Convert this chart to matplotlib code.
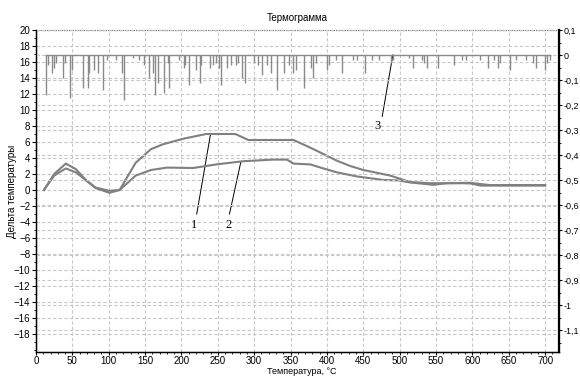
import matplotlib.pyplot as plt
from matplotlib.ticker import MultipleLocator, FuncFormatter

# Кривые 1 и 2 (дельта температуры, левая ось)
t1 = [11, 25, 41, 55, 69, 82, 101, 115, 137, 158, 174, 202, 234, 274, 292,
      354, 377, 395, 414, 432, 450, 473, 487, 514, 542, 587, 599, 611, 700]
d1 = [0.0, 2.0, 3.3, 2.6, 1.2, 0.25, -0.35, 0.0, 3.4, 5.1, 5.7, 6.4, 7.0, 7.0,
      6.25, 6.25, 5.3, 4.5, 3.65, 3.0, 2.5, 2.07, 1.8, 1.0, 0.85, 0.85, 0.8,
      0.55, 0.55]

t2 = [11, 25, 41, 55, 69, 82, 101, 115, 137, 158, 180, 216, 248, 285, 326,
      345, 354, 377, 395, 414, 441, 478, 498, 514, 546, 565, 597, 611, 624, 700]
d2 = [0.0, 1.8, 2.7, 2.2, 1.2, 0.3, -0.1, 0.0, 1.8, 2.5, 2.8, 2.75, 3.2, 3.6,
      3.8, 3.8, 3.3, 3.2, 2.7, 2.2, 1.7, 1.25, 1.2, 0.95, 0.65, 0.85, 0.9, 0.75,
      0.62, 0.62]

# Кривая 3 (правая ось): базовая линия и пики вниз
t3_start, t3_end = 12, 708
spike_t = [14, 16, 22, 25, 27, 37, 40, 47, 49, 64, 72, 73, 80, 85, 92, 97, 110,
           118, 121, 133, 142, 148, 156, 161, 164, 168, 176, 181, 183, 197, 203,
           205, 210, 220, 225, 227, 239, 243, 247, 252, 254, 263, 268, 275, 278,
           283, 288, 300, 305, 311, 318, 323, 332, 341, 348, 353, 358, 369, 378,
           381, 385, 400, 403, 412, 421, 436, 441, 452, 462, 472, 488, 491, 513,
           518, 530, 534, 538, 553, 575, 585, 591, 610, 621, 630, 635, 638, 652,
           660, 673, 683, 688, 700, 703, 707]
spike_d = [-0.16, -0.04, -0.07, -0.05, -0.03, -0.09, -0.03, -0.17, -0.06, -0.13,
           -0.13, -0.07, -0.06, -0.07, -0.14, -0.02, -0.02, -0.07, -0.18, -0.01,
           -0.02, -0.04, -0.09, -0.07, -0.16, -0.11, -0.15, -0.03, -0.13, -0.02,
           -0.05, -0.04, -0.12, -0.06, -0.11, -0.04, -0.05, -0.04, -0.03, -0.05,
           -0.12, -0.05, -0.04, -0.04, -0.03, -0.09, -0.11, -0.03, -0.04, -0.08,
           -0.04, -0.07, -0.14, -0.07, -0.04, -0.07, -0.06, -0.13, -0.05, -0.09,
           -0.03, -0.06, -0.04, -0.02, -0.07, -0.02, -0.02, -0.07, -0.02, -0.02,
           -0.03, -0.02, -0.01, -0.05, -0.02, -0.03, -0.05, -0.05, -0.04, -0.02,
           -0.02, -0.02, -0.05, -0.02, -0.05, -0.03, -0.06, -0.02, -0.02, -0.03,
           -0.05, -0.06, -0.03, -0.02]

plt.rcParams['font.family'] = ['Liberation Sans', 'DejaVu Sans']

fig = plt.figure(figsize=(5.8, 3.76), dpi=100)
ax = fig.add_axes([0.062, 0.0638, 0.9018, 0.8564])
ax2 = ax.twinx()

grid_kw = dict(color='#c8c8c8', linestyle=(0, (3, 2)), linewidth=0.8)

ax.set_xlim(0, 719)
ax.set_ylim(-20.25, 20)
ax2.set_ylim(-1.188, 0.1)

ax.xaxis.set_major_locator(MultipleLocator(50))
ax.xaxis.set_minor_locator(MultipleLocator(10))
ax.yaxis.set_major_locator(MultipleLocator(2))
ax.yaxis.set_minor_locator(MultipleLocator(1))
ax2.yaxis.set_major_locator(MultipleLocator(0.1))
ax2.yaxis.set_minor_locator(MultipleLocator(0.05))

ax.grid(True, which='major', **grid_kw)
ax2.grid(True, which='major', **grid_kw)

ax.set_yticks([v for v in range(-18, 21, 2)])
ax.tick_params(labelsize=7, length=3, width=0.8, pad=1)
ax.tick_params(axis='x', length=2.5, pad=0.5)
ax.tick_params(which='minor', length=1.5, width=0.6)
ax2.tick_params(labelsize=6.5, length=2.5, width=0.8, pad=0.5)
ax2.tick_params(which='minor', length=1.5, width=0.6)


def comma_fmt(v, pos):
    s = f'{v:.1f}'.rstrip('0').rstrip('.')
    if s in ('-0', ''):
        s = '0'
    return s.replace('.', ',')


ax2.yaxis.set_major_formatter(FuncFormatter(comma_fmt))
ax2.set_yticks([round(0.1 - 0.1 * i, 1) for i in range(13)])

for side in ('top',):
    ax.spines[side].set_linestyle((0, (3, 2)))
    ax.spines[side].set_color('#404040')
    ax.spines[side].set_linewidth(0.8)
    ax2.spines[side].set_visible(False)
ax2.spines['right'].set_linewidth(1.6)
ax2.spines['right'].set_color('black')
ax.spines['left'].set_linewidth(1.0)
ax.spines['bottom'].set_linewidth(1.0)

# кривые
ax.plot(t1, d1, color='#808080', linewidth=1.5, zorder=3)
ax.plot(t2, d2, color='#808080', linewidth=1.5, zorder=3)

ax2.hlines(0, t3_start, t3_end, color='#8a8a8a', linewidth=1.0)
ax2.vlines(spike_t, spike_d, 0, color='#8a8a8a', linewidth=1.0)

# подписи кривых
serif = ['Liberation Serif', 'DejaVu Serif']
ax.plot([221, 240], [-3.0, 7.0], color='black', linewidth=0.7)
ax.plot([266, 281.5], [-3.0, 3.45], color='black', linewidth=0.7)
ax.plot([476, 490.6], [9.2, 16.9], color='black', linewidth=0.7)
ax.text(218, -4.4, '1', family=serif, fontsize=9, ha='center', va='center')
ax.text(265, -4.4, '2', family=serif, fontsize=9, ha='center', va='center')
ax.text(470, 8.0, '3', family=serif, fontsize=9, ha='center', va='center')

fig.text(0.513, 0.952, 'Термограмма', fontsize=7, ha='center', va='center')
fig.text(0.52, 0.0, 'Температура, °С', fontsize=6.5, ha='center', va='bottom')
fig.text(0.02, 0.49, 'Дельта температуры', fontsize=7, ha='center',
         va='center', rotation=90)

fig.savefig('out.png', dpi=100)
